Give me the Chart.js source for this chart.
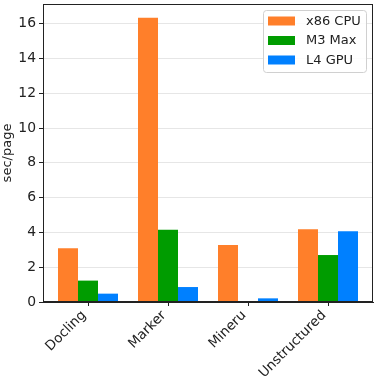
<!DOCTYPE html>
<html>
<head>
<meta charset="utf-8">
<script src="https://cdn.jsdelivr.net/npm/chart.js@4/dist/chart.umd.min.js"></script>
<style>
  html, body { margin: 0; padding: 0; background: #fff; }
  #wrap { width: 377px; height: 376px; }
</style>
</head>
<body>
<div id="wrap"><canvas id="myChart" width="377" height="376"></canvas></div>
<script>
const tools = ['Docling', 'Marker', 'Mineru', 'Unstructured'];
const x86Cpu = [3.09, 16.34, 3.28, 4.18];
const m3Max = [1.23, 4.16, 0, 2.70];
const l4Gpu = [0.48, 0.86, 0.21, 4.06];
const yTicks = [0, 2, 4, 6, 8, 10, 12, 14, 16];

const font = "'DejaVu Sans', sans-serif";

// bars sit on numeric positions 0..3 like matplotlib does
const toPoints = (vals) => vals.map((v, i) => ({ x: i, y: v }));
const isCat = (v) => Number.isInteger(v) && v >= 0 && v < tools.length;

// matplotlib style frame + legend box in the upper right corner
const framePlugin = {
  id: 'frame',
  afterDatasetsDraw(chart) {
    const { ctx, chartArea: a } = chart;
    ctx.save();
    ctx.strokeStyle = '#222';
    ctx.lineWidth = 1;
    ctx.strokeRect(a.left + 0.5, a.top + 0.5, a.right - a.left - 1, a.bottom - a.top - 1);

    // legend
    const sets = chart.data.datasets;
    const w = 103, h = 62;
    const x0 = a.right - 7 - w, y0 = a.top + 6;
    ctx.fillStyle = 'rgba(255,255,255,0.85)';
    ctx.strokeStyle = '#d0d0d0';
    ctx.beginPath();
    ctx.roundRect(x0 + 0.5, y0 + 0.5, w, h, 3);
    ctx.fill();
    ctx.stroke();
    ctx.font = '13px ' + font;
    ctx.textBaseline = 'middle';
    sets.forEach((ds, i) => {
      const cy = y0 + 11 + i * 19.5;
      ctx.fillStyle = ds.backgroundColor;
      ctx.fillRect(x0 + 5, cy - 4.5, 27, 9);
      ctx.fillStyle = '#222';
      ctx.fillText(ds.label, x0 + 43, cy + 0.5);
    });
    ctx.restore();
  }
};

const ctx = document.getElementById('myChart').getContext('2d');
const chart = new Chart(ctx, {
    type: 'bar',
    data: {
        datasets: [{
            label: 'x86 CPU',
            backgroundColor: '#ff7f2a',
            data: toPoints(x86Cpu)
        },
        {
            label: 'M3 Max',
            backgroundColor: '#009c00',
            data: toPoints(m3Max)
        },
        {
            label: 'L4 GPU',
            backgroundColor: '#0080ff',
            data: toPoints(l4Gpu)
        }]
    },
    options: {
        responsive: false,
        animation: false,
        layout: { padding: { top: 4, right: 4, left: 0, bottom: 0 } },
        plugins: {
            legend: { display: false },
            tooltip: { enabled: false }
        },
        datasets: {
            bar: { categoryPercentage: 0.75, barPercentage: 1.0 }
        },
        scales: {
            x: {
                type: 'linear',
                min: -0.5625,
                max: 3.5625,
                offset: false,
                grid: {
                    display: true,
                    offset: false,
                    drawOnChartArea: false,
                    tickLength: 4,
                    tickColor: '#222'
                },
                border: { color: '#222' },
                ticks: {
                    stepSize: 1,
                    includeBounds: false,
                    color: '#222',
                    font: { family: font, size: 13.5 },
                    minRotation: 45,
                    maxRotation: 45,
                    autoSkip: false,
                    padding: 1.5,
                    labelOffset: -4,
                    callback: (v) => isCat(v) ? tools[v] : ''
                },
                afterFit(scale) {
                    scale.height = 74;
                    scale.paddingLeft = 0;
                    scale.paddingRight = 0;
                }
            },
            y: {
                min: 0,
                max: 17.13,
                grid: { color: '#e6e6e6', tickColor: '#222', tickLength: 4 },
                border: { color: '#222' },
                ticks: {
                    stepSize: 2,
                    includeBounds: false,
                    color: '#222',
                    padding: 3,
                    font: { family: font, size: 13.9 },
                    callback: (v) => yTicks.includes(v) ? String(v) : ''
                },
                title: {
                    display: true,
                    text: 'sec/page',
                    color: '#222',
                    padding: { top: 0, bottom: 1 },
                    font: { family: font, size: 13 }
                },
                afterFit(scale) {
                    scale.width = 43;
                    scale.paddingTop = 0;
                    scale.paddingBottom = 0;
                }
            }
        }
    },
    plugins: [framePlugin]
});
</script>
</body>
</html>
